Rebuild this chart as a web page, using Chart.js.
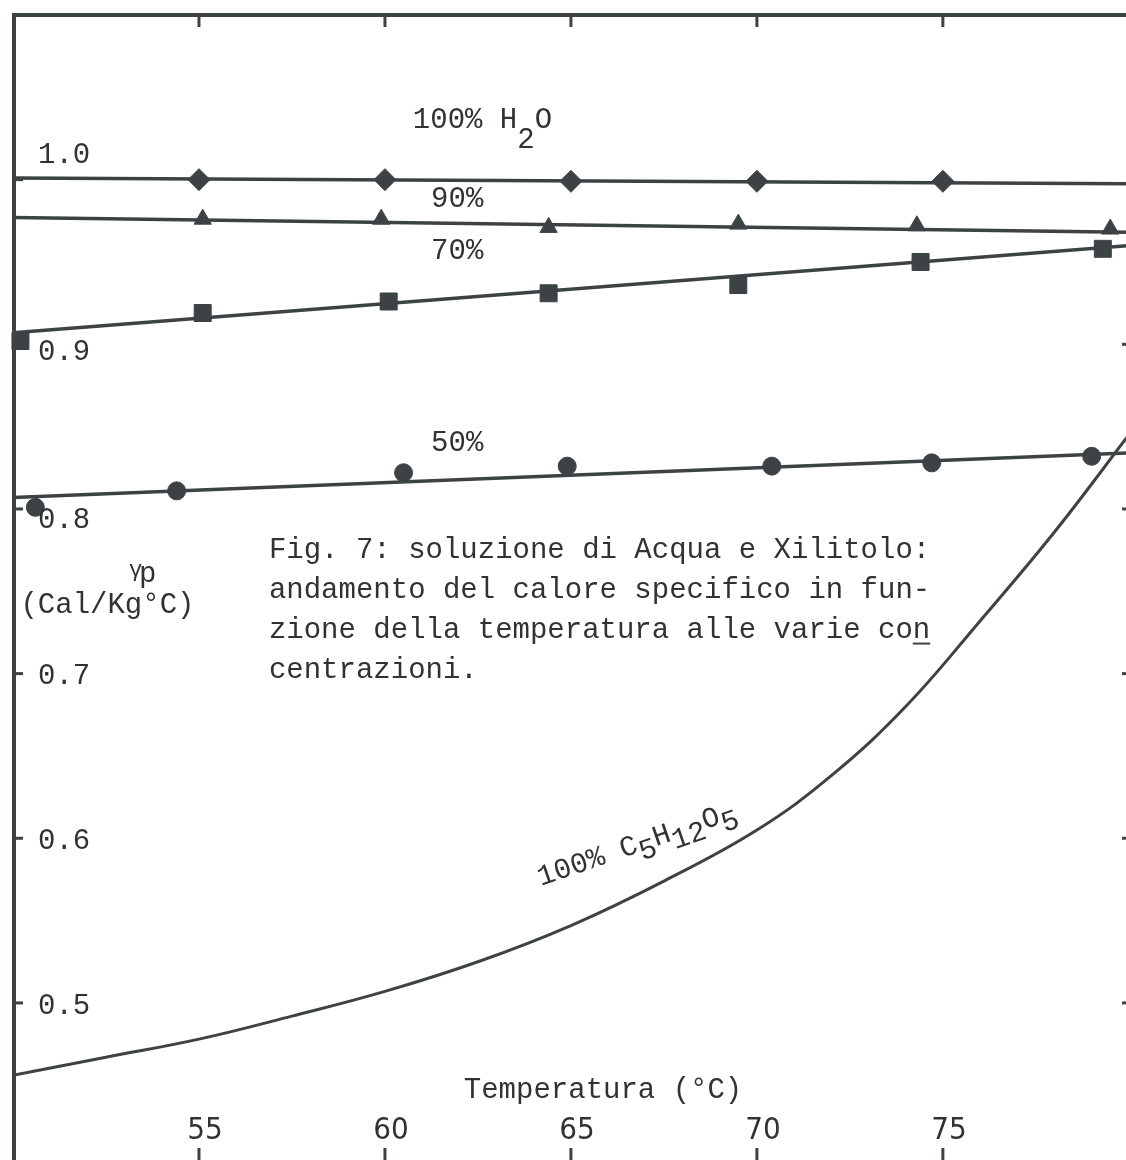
<!DOCTYPE html>
<html>
<head>
<meta charset="utf-8">
<script src="https://cdn.jsdelivr.net/npm/chart.js@4"></script>
<style>
  html, body { margin: 0; padding: 0; background: #fff; }
  #wrap { position: relative; width: 1140px; height: 1174px; }
</style>
</head>
<body>
<div id="wrap"><canvas id="myChart"></canvas></div>
<script>
// Values (temperature in °C, specific heat in Cal/Kg°C)
const xTicks = [55, 60, 65, 70, 75];
const yTicks = [0.5, 0.6, 0.7, 0.8, 0.9, 1.0];
const fitTemp = [50, 80];

// 100% H2O - diamonds
const h2oTemp = [55, 60, 65, 70, 75];
const h2oCp = [1.000, 1.000, 0.999, 0.999, 0.999];
const h2oFit = [1.001, 0.9975];

// 90% - triangles
const w90Temp = [55.1, 59.9, 64.4, 69.5, 74.3, 79.5];
const w90Cp = [0.976, 0.976, 0.971, 0.973, 0.972, 0.970];
const w90Fit = [0.977, 0.968];

// 70% - squares
const w70Temp = [50.2, 55.1, 60.1, 64.4, 69.5, 74.4, 79.3];
const w70Cp = [0.902, 0.919, 0.926, 0.931, 0.936, 0.950, 0.958];
const w70Fit = [0.907, 0.960];

// 50% - circles
const w50Temp = [50.6, 54.4, 60.5, 64.9, 70.4, 74.7, 79.0];
const w50Cp = [0.801, 0.811, 0.822, 0.826, 0.826, 0.828, 0.832];
const w50Fit = [0.807, 0.834];

// 100% C5H12O5 - curve only
const xylTemp = [50, 52.5, 55, 57.5, 60, 62.5, 65, 67.5, 70, 72, 74, 76, 78, 80];
const xylCp = [0.456, 0.467, 0.478, 0.492, 0.507, 0.525, 0.547, 0.574, 0.605, 0.638, 0.680, 0.732, 0.786, 0.845];

const ink = "#3d4244";
const mono = "Liberation Mono, DejaVu Sans Mono, monospace";

const pts = (xs, ys) => xs.map((t, i) => ({ x: t, y: ys[i] }));

function fitLine(vals) {
  return {
    data: pts(fitTemp, vals),
    showLine: true,
    borderColor: ink,
    borderWidth: 3.5,
    pointRadius: 0
  };
}

function markers(xs, ys, style, r) {
  return {
    data: pts(xs, ys),
    showLine: false,
    pointStyle: style,
    pointRadius: r,
    pointHoverRadius: r,
    backgroundColor: ink,
    borderColor: ink,
    borderWidth: 1,
    clip: false
  };
}

// Text, frame and tick marks drawn on top of the chart
const annotate = {
  id: "annotate",
  afterDatasetsDraw(chart) {
    const { ctx, chartArea: a, scales: { x, y } } = chart;
    const X = t => x.getPixelForValue(t);
    const Y = v => y.getPixelForValue(v);

    ctx.save();
    ctx.strokeStyle = ink;
    ctx.lineCap = "butt";

    // frame (only left and top sides show in the scan)
    ctx.lineWidth = 4;
    ctx.beginPath();
    ctx.moveTo(a.left + 1, a.bottom);
    ctx.lineTo(a.left + 1, a.top);
    ctx.lineTo(a.right, a.top);
    ctx.stroke();

    // inward tick marks
    ctx.lineWidth = 3;
    const seg = (x1, y1, x2, y2) => { ctx.beginPath(); ctx.moveTo(x1, y1); ctx.lineTo(x2, y2); ctx.stroke(); };
    xTicks.forEach(t => {
      seg(X(t), a.top, X(t), a.top + 12);
      seg(X(t), a.bottom, X(t), a.bottom - 13);
    });
    yTicks.forEach(v => {
      seg(a.left, Y(v), a.left + 10, Y(v));
      if (v < 1) seg(a.right, Y(v), a.right - 5, Y(v));
    });

    ctx.fillStyle = "#2f3335";
    ctx.textBaseline = "alphabetic";
    const text = (s, t, v, size, align) => {
      ctx.font = size + "px " + mono;
      ctx.textAlign = align || "left";
      ctx.fillText(s, X(t), Y(v));
    };

    // y tick labels, inside the axis
    ctx.font = "29px " + mono;
    ctx.textAlign = "left";
    ctx.textBaseline = "middle";
    yTicks.forEach(v => {
      let dy = 3;
      if (v === 1.0) dy = -24;
      else if (v === 0.9) dy = 8;
      else if (v === 0.8) dy = 11;
      ctx.fillText(v.toFixed(1), a.left + 25, Y(v) + dy);
    });

    // x tick labels, inside the axis
    ctx.font = "31px Liberation Sans Narrow, DejaVu Sans Condensed, sans-serif";
    ctx.textAlign = "center";
    ctx.textBaseline = "alphabetic";
    xTicks.forEach(t => ctx.fillText(String(t), X(t) + 6, Y(0.4172)));

    // axis titles
    text("Temperatura (°C)", 62.12, 0.4421, 29);
    text("(Cal/Kg°C)", 50.2, 0.737, 29);
    text("γ", 53.12, 0.7595, 22);
    text("p", 53.39, 0.7558, 29);

    // series labels
    ctx.font = "29px " + mono;
    ctx.textAlign = "left";
    let x0 = X(60.75), y0 = Y(1.0313);
    ctx.fillText("100% H", x0, y0);
    x0 += ctx.measureText("100% H").width;
    ctx.fillText("2", x0, y0 + 20);
    x0 += ctx.measureText("2").width;
    ctx.fillText("O", x0, y0);

    text("90%", 61.24, 0.9833, 29);
    text("70%", 61.24, 0.9517, 29);
    text("50%", 61.24, 0.8355, 29);

    // caption
    const cap = [
      "Fig. 7: soluzione di Acqua e Xilitolo:",
      "andamento del calore specifico in fun-",
      "zione della temperatura alle varie con",
      "centrazioni."
    ];
    const capV = [0.7705, 0.7462, 0.7219, 0.6976];
    cap.forEach((s, i) => text(s, 56.88, capV[i], 29));
    // underlined "n" of "con"
    ctx.font = "29px " + mono;
    const w = ctx.measureText(cap[2]).width;
    const wn = ctx.measureText("n").width;
    ctx.lineWidth = 2;
    const ux = X(56.88) + w;
    seg(ux - wn, Y(capV[2]) + 6, ux, Y(capV[2]) + 6);

    // rotated label along the xylitol curve
    ctx.save();
    ctx.translate(X(64.19), Y(0.571));
    ctx.rotate(-19 * Math.PI / 180);
    ctx.textAlign = "left";
    let cx = 0;
    [["100% C", 0], ["5", 9], ["H", 0], ["12", 9], ["O", 0], ["5", 9]].forEach(([s, dy]) => {
      ctx.fillText(s, cx, dy);
      cx += ctx.measureText(s).width;
    });
    ctx.restore();

    ctx.restore();
  }
};

const ctx = document.getElementById("myChart").getContext("2d");
const myChart = new Chart(ctx, {
  type: "scatter",
  data: {
    datasets: [
      fitLine(h2oFit),
      markers(h2oTemp, h2oCp, "rectRot", 11),
      fitLine(w90Fit),
      markers(w90Temp, w90Cp, "triangle", 10),
      fitLine(w70Fit),
      markers(w70Temp, w70Cp, "rect", 12),
      fitLine(w50Fit),
      markers(w50Temp, w50Cp, "circle", 9),
      {
        data: pts(xylTemp, xylCp),
        showLine: true,
        borderColor: ink,
        borderWidth: 3,
        pointRadius: 0,
        tension: 0.4
      }
    ]
  },
  options: {
    responsive: true,
    maintainAspectRatio: false,
    animation: false,
    layout: { padding: { left: 12, top: 15, right: 0, bottom: 0 } },
    plugins: {
      legend: { display: false },
      tooltip: { enabled: false }
    },
    scales: {
      x: { type: "linear", min: 50, max: 79.95, display: false },
      y: { type: "linear", min: 0.404, max: 1.1, display: false }
    }
  },
  plugins: [annotate]
});
</script>
</body>
</html>
